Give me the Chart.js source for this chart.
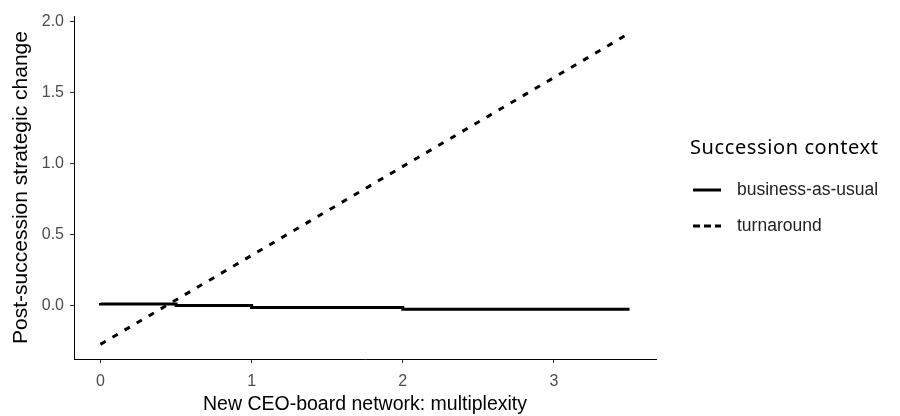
<!DOCTYPE html>
<html>
<head>
<meta charset="utf-8">
<script src="https://cdn.jsdelivr.net/npm/chart.js@4.4.1/dist/chart.umd.min.js"></script>
<style>
  html, body { margin: 0; padding: 0; background: #ffffff; }
  #wrap { width: 900px; height: 416px; position: relative; }
</style>
</head>
<body>
<div id="wrap"><canvas id="c" width="900" height="416"></canvas></div>
<script>
// Predicted strategic change by multiplexity, per succession context
const multiplexity = [0, 0.5, 1, 2, 3, 3.5];
const businessAsUsual = [0.021, 0.014, 0.003, -0.011, -0.023, -0.023];
const turnaroundX = [0, 3.5];
const turnaround = [-0.27, 1.92];

const seriesNames = ['business-as-usual', 'turnaround'];
const legendTitle = 'Succession context';
const xTicks = [0, 1, 2, 3];
const yTicks = [0.0, 0.5, 1.0, 1.5, 2.0];
const xTitle = 'New CEO-board network: multiplexity';
const yTitle = 'Post-succession strategic change';

const toPoints = (xs, ys) => xs.map((x, i) => ({ x: x, y: ys[i] }));

// Legend on the right, drawn beside the panel
const sideLegend = {
  id: 'sideLegend',
  afterDraw(chart) {
    const ctx = chart.ctx;
    ctx.save();
    ctx.fillStyle = '#000000';
    ctx.font = '20px "Noto Sans", "Open Sans", sans-serif';
    if ('letterSpacing' in ctx) ctx.letterSpacing = '0.6px';
    ctx.textBaseline = 'middle';
    ctx.textAlign = 'left';
    ctx.fillText(legendTitle, 690, 148);
    if ('letterSpacing' in ctx) ctx.letterSpacing = '0px';
    const rows = [190, 226];
    chart.data.datasets.forEach((ds, i) => {
      const y = rows[i];
      ctx.beginPath();
      ctx.strokeStyle = ds.borderColor;
      ctx.lineWidth = ds.borderWidth;
      ctx.setLineDash(ds.borderDash ? [7, 4] : []);
      ctx.moveTo(693, y);
      ctx.lineTo(721, y);
      ctx.stroke();
      ctx.setLineDash([]);
      ctx.fillStyle = '#222222';
      ctx.font = '17.5px "Liberation Sans", Arial, sans-serif';
      ctx.fillText(seriesNames[i], 737, y);
    });
    ctx.restore();
  }
};

new Chart(document.getElementById('c'), {
  type: 'line',
  data: {
    datasets: [
      {
        label: seriesNames[0],
        data: toPoints(multiplexity, businessAsUsual),
        borderColor: '#000000',
        borderWidth: 3,
        stepped: 'after',
        pointRadius: 0,
        fill: false
      },
      {
        label: seriesNames[1],
        data: toPoints(turnaroundX, turnaround),
        borderColor: '#000000',
        borderWidth: 3,
        borderDash: [6, 8],
        pointRadius: 0,
        fill: false
      }
    ]
  },
  options: {
    responsive: false,
    animation: false,
    layout: { padding: { left: 9, right: 244, top: 16, bottom: 0 } },
    plugins: { legend: { display: false }, tooltip: { enabled: false } },
    scales: {
      x: {
        type: 'linear',
        min: -0.175,
        max: 3.675,
        afterBuildTicks(scale) { scale.ticks = xTicks.map(v => ({ value: v })); },
        afterFit(scale) { scale.height = 57; },
        border: { display: true, color: '#000000', width: 1 },
        grid: { drawOnChartArea: false, drawTicks: true, tickLength: 4, tickColor: '#333333' },
        ticks: { color: '#4d4d4d', padding: 9, font: { family: '"Liberation Sans", Arial, sans-serif', size: 16 },
                 callback: v => String(v) },
        title: { display: true, text: xTitle, color: '#000000', padding: { top: 4, bottom: 0 },
                 font: { family: '"Liberation Sans", Arial, sans-serif', size: 19.5 } }
      },
      y: {
        type: 'linear',
        min: -0.373,
        max: 2.04,
        afterBuildTicks(scale) { scale.ticks = yTicks.map(v => ({ value: v })); },
        afterFit(scale) { scale.width = 65; },
        border: { display: true, color: '#000000', width: 1 },
        grid: { drawOnChartArea: false, drawTicks: true, tickLength: 4, tickColor: '#333333' },
        ticks: { color: '#4d4d4d', padding: 6, font: { family: '"Liberation Sans", Arial, sans-serif', size: 16 },
                 callback: v => v.toFixed(1) },
        title: { display: true, text: yTitle, color: '#000000', padding: { top: 0, bottom: 0 },
                 font: { family: '"Liberation Sans", Arial, sans-serif', size: 21 } }
      }
    }
  },
  plugins: [sideLegend]
});
</script>
</body>
</html>
